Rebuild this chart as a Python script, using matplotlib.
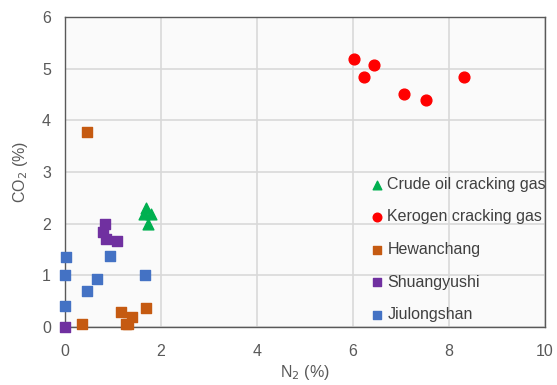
import numpy as np
import matplotlib.pyplot as plt

plt.rcParams['font.family'] = ['Liberation Sans', 'DejaVu Sans']

# N2 / CO2 content (%) for each gas group
crude_n2 = [1.69, 1.80, 1.64, 1.72]
crude_co2 = [2.30, 2.18, 2.18, 2.00]

kerogen_n2 = [6.02, 6.44, 6.23, 7.06, 7.52, 8.31]
kerogen_co2 = [5.18, 5.07, 4.83, 4.51, 4.40, 4.84]

hewan_n2 = [0.45, 0.35, 1.17, 1.40, 1.27, 1.32, 1.68]
hewan_co2 = [3.78, 0.05, 0.30, 0.19, 0.05, 0.05, 0.36]

shuang_n2 = [0.84, 0.79, 0.85, 1.09, 0.0]
shuang_co2 = [1.99, 1.84, 1.71, 1.67, 0.0]

jiulong_n2 = [0.03, 0.0, 0.66, 0.45, 0.0, 0.94, 1.66]
jiulong_co2 = [1.35, 1.01, 0.92, 0.69, 0.41, 1.38, 1.01]

fig = plt.figure(figsize=(5.57, 3.85), dpi=100)
fig.patch.set_facecolor('white')
ax = fig.add_axes([0.1167, 0.1506, 0.8618, 0.8052])
ax.set_facecolor('#fafafa')

ax.scatter(crude_n2, crude_co2, marker='^', s=60, c='#00b050', label='Crude oil cracking gas', zorder=3, clip_on=False)
ax.scatter(kerogen_n2, kerogen_co2, marker='o', s=60, c='#ff0000', label='Kerogen cracking gas', zorder=3, clip_on=False)
ax.scatter(hewan_n2, hewan_co2, marker='s', s=55, c='#c55a11', label='Hewanchang', zorder=3, clip_on=False)
ax.scatter(shuang_n2, shuang_co2, marker='s', s=55, c='#7030a0', label='Shuangyushi', zorder=3, clip_on=False)
ax.scatter(jiulong_n2, jiulong_co2, marker='s', s=55, c='#4472c4', label='Jiulongshan', zorder=3, clip_on=False)

ax.set_xlim(0, 10)
ax.set_ylim(0, 6)
ax.set_xticks(np.arange(0, 11, 2))
ax.set_yticks(np.arange(0, 7, 1))
ax.grid(True, color='#d9d9d9', linewidth=1.2, zorder=0)
ax.set_axisbelow(True)
ax.tick_params(axis='x', length=0, labelsize=11.5, labelcolor='#595959', pad=12)
ax.tick_params(axis='y', length=0, labelsize=11.5, labelcolor='#595959', pad=10)
for sp in ax.spines.values():
    sp.set_color('#595959')
    sp.set_linewidth(1.0)

ax.set_xlabel('N$_2$ (%)', fontsize=11.5, color='#595959', labelpad=3)
ax.set_ylabel('CO$_2$ (%)', fontsize=11.5, color='#595959', labelpad=9)

leg = ax.legend(loc='center left', bbox_to_anchor=(0.6, 0.25), frameon=False,
                fontsize=11.5, labelcolor='#404040', handletextpad=0.05,
                labelspacing=1.1, markerscale=0.8, handlelength=1.2)

fig.savefig('out.png', dpi=100, facecolor='white')
